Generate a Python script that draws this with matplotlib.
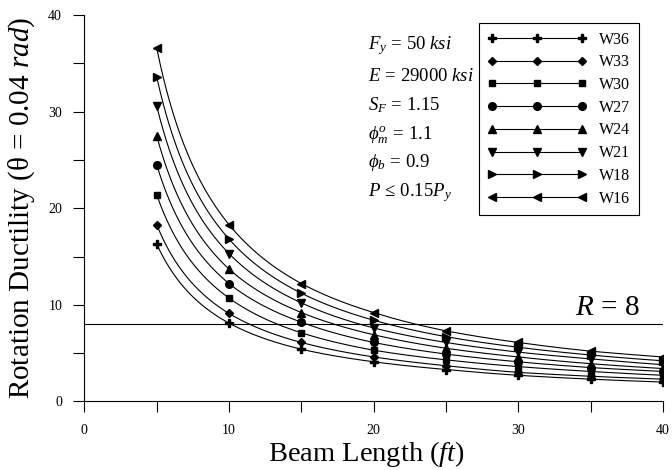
import numpy as np
import matplotlib
matplotlib.use('Agg')
from matplotlib import pyplot as plt

plt.rcParams['font.family'] = 'Liberation Serif'
plt.rcParams['mathtext.fontset'] = 'custom'
plt.rcParams['mathtext.rm'] = 'Liberation Serif'
plt.rcParams['mathtext.it'] = 'Liberation Serif:italic'
plt.rcParams['mathtext.bf'] = 'Liberation Serif:bold'

# beam lengths (ft)
comprimento = [5, 10, 15, 20, 25, 30, 35, 40]

# rotation ductility, one list per section
w36 = [16.3, 8.1, 5.4, 4.1, 3.3, 2.7, 2.3, 2.0]
w33 = [18.3, 9.1, 6.1, 4.6, 3.7, 3.0, 2.6, 2.3]
w30 = [21.4, 10.7, 7.1, 5.3, 4.3, 3.6, 3.1, 2.7]
w27 = [24.5, 12.2, 8.2, 6.1, 4.9, 4.1, 3.5, 3.1]
w24 = [27.5, 13.7, 9.2, 6.9, 5.5, 4.6, 3.9, 3.4]
w21 = [30.6, 15.3, 10.2, 7.6, 6.1, 5.1, 4.4, 3.8]
w18 = [33.6, 16.8, 11.2, 8.4, 6.7, 5.6, 4.8, 4.2]
w16 = [36.6, 18.3, 12.2, 9.2, 7.3, 6.1, 5.2, 4.6]

nomes = ['W36', 'W33', 'W30', 'W27', 'W24', 'W21', 'W18', 'W16']
series = [w36, w33, w30, w27, w24, w21, w18, w16]
marcadores = ['P', 'D', 's', 'o', '^', 'v', '>', '<']
tamanhos = [5.5, 4.0, 5.0, 5.5, 5.5, 5.5, 5.5, 5.5]

R = 8

fig = plt.figure(figsize=(6.72, 4.70), dpi=100)
ax = fig.add_axes([0.1255, 0.146, 0.8612, 0.822])

x = np.array(comprimento, dtype=float)
for nome, y, m, ms in zip(nomes, series, marcadores, tamanhos):
    y = np.array(y)
    # smooth line between the points (log-log segments)
    xs = np.linspace(x[0], x[-1], 300)
    ys = np.exp(np.interp(np.log(xs), np.log(x), np.log(y)))
    ax.plot(xs, ys, color='black', lw=0.8)
    ax.plot(x, y, linestyle='none', marker=m, ms=ms, color='black')
    # legend handle
    ax.plot([], [], color='black', lw=0.8, marker=m, ms=ms, label=nome)

ax.plot([0, 40], [R, R], color='black', lw=0.8)
ax.text(38.4, 8.95, '$R\\,=\\,8$', fontsize=21, ha='right', va='baseline')

anot = ['$F_y\\,=\\,50\\ ksi$', '$E\\,=\\,29000\\ ksi$', '$S_F\\,=\\,1.15$',
        '$\\phi_m^o\\,=\\,1.1$', '$\\phi_b\\,=\\,0.9$', '$P\\,\\leq\\,0.15P_y$']
ypos = [36.8, 33.6, 30.7, 27.6, 24.7, 21.6]
for t, yy in zip(anot, ypos):
    ax.text(19.6, yy, t, fontsize=13.5, ha='left', va='center')

leg = ax.legend(loc='upper right', bbox_to_anchor=(0.9585, 0.980), borderaxespad=0,
                fontsize=11.5, handlelength=6.2, numpoints=3, labelspacing=0.42,
                borderpad=0.55, handletextpad=0.8,
                fancybox=False, edgecolor='black', framealpha=1)
leg.get_frame().set_linewidth(0.8)

ax.set_xlim(0, 40)
ax.set_ylim(0, 40)
ax.set_xticks([0, 10, 20, 30, 40])
ax.set_xticks([5, 15, 25, 35], minor=True)
ax.set_yticks([0, 10, 20, 30, 40])
ax.set_yticks([5, 15, 25, 35], minor=True)
ax.tick_params(which='both', direction='out', length=8, width=0.8, labelsize=10, pad=8)
ax.spines['top'].set_visible(False)
ax.spines['right'].set_visible(False)

ax.set_xlabel('Beam Length ($\\it{ft}$)', fontsize=20.5)
ax.xaxis.set_label_coords(0.487, -0.097)
ax.set_ylabel('Rotation Ductility (θ = 0.04 $\\it{rad}$)', fontsize=21, labelpad=8)

plt.savefig('out.png', dpi=100)
